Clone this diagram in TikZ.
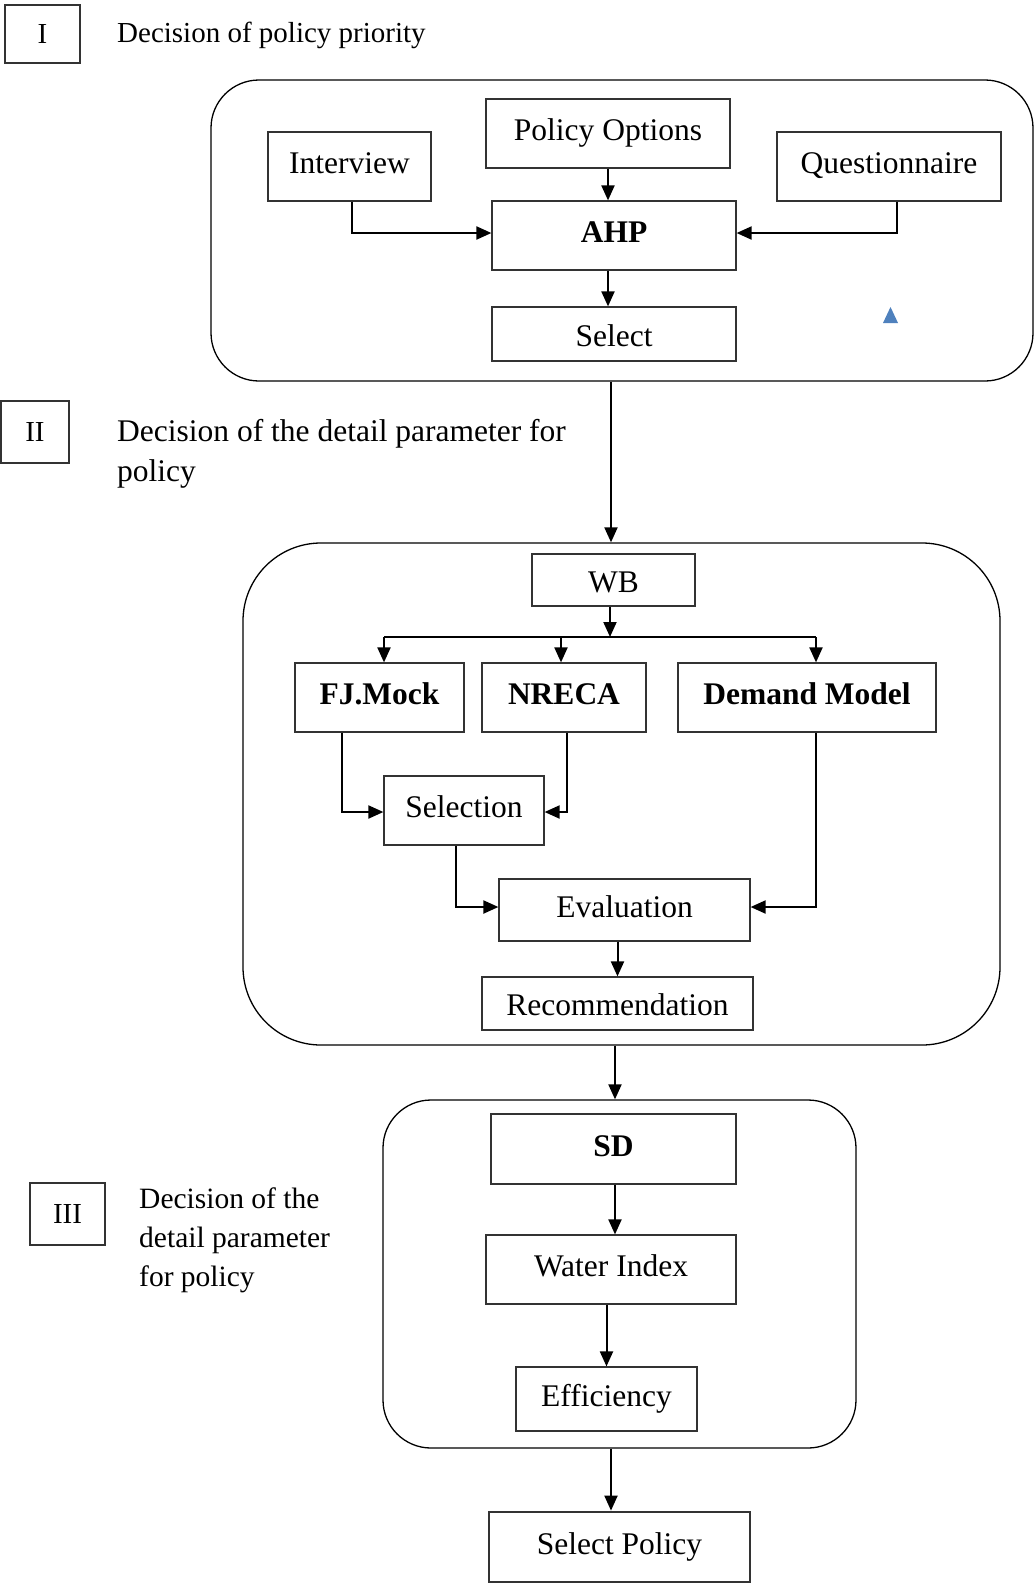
\documentclass[tikz,border=0pt]{standalone}
\usepackage{fontspec}
\setmainfont{Liberation Serif}
\usetikzlibrary{arrows.meta,calc}
\definecolor{markblue}{HTML}{4F81BD}
\begin{document}
\begin{tikzpicture}[x=1pt,y=-1pt,
  box/.style={draw=black!80, line width=1.2pt, rectangle, inner sep=0pt,
    font=\fontsize{31.5}{38}\selectfont, text height=21pt, text depth=7pt},
  low/.style={text height=31pt},
  bold/.style={font=\fontsize{31.5}{38}\selectfont\bfseries},
  group/.style={draw=black, line width=1.3pt, rectangle, inner sep=0pt},
  tag/.style={draw=black!80, line width=1.2pt, rectangle, inner sep=0pt,
    font=\fontsize{29}{34}\selectfont},
  caption/.style={inner sep=0pt, anchor=base west, align=left},
  arr/.style={line width=2pt, -{Triangle[length=15pt,width=13pt]}},
  link/.style={line width=2pt}
]
\useasboundingbox (0,0) rectangle (1035,1585);

% ---- stage labels (multi-line captions sit on their last baseline) ----
\node[tag, minimum width=75pt, minimum height=58pt] (tI) at (42.5,34) {I};
\node[caption, font=\fontsize{29}{34}\selectfont] (cI) at (117,42) {Decision of policy priority};

\node[tag, minimum width=68pt, minimum height=62pt] (tII) at (35,432) {II};
\node[caption, font=\fontsize{31.5}{40}\selectfont] (cII) at (117,481)
  {Decision of the detail parameter for\\policy};

\node[tag, minimum width=75pt, minimum height=62pt] (tIII) at (67.5,1214) {III};
\node[caption, font=\fontsize{29.5}{39}\selectfont] (cIII) at (139,1286)
  {Decision of the\\detail parameter\\for policy};

% ---- stage I: policy priority ----
\node[group, rounded corners=48pt, minimum width=822pt, minimum height=301pt] (g1) at (622,230.5) {};
\node[box, minimum width=163pt, minimum height=69pt] (int) at (349.5,166.5) {Interview};
\node[box, minimum width=244pt, minimum height=69pt] (po) at (608,133.5) {Policy Options};
\node[box, minimum width=224pt, minimum height=69pt] (qn) at (889,166.5) {Questionnaire};
\node[box, bold, minimum width=244pt, minimum height=69pt] (ahp) at (614,235.5) {AHP};
\node[box, low, minimum width=244pt, minimum height=54pt] (sl) at (614,334) {Select};
\fill[markblue] (883,323) -- (898,323) -- (890.5,307) -- cycle;

\draw[arr] (po.south) -- (po.south |- ahp.north);
\draw[arr] ([xshift=2.5pt]int.south) |- ([yshift=2.5pt]ahp.west);
\draw[arr] ([xshift=8pt]qn.south) |- ([yshift=2.5pt]ahp.east);
\draw[arr] (po.south |- ahp.south) -- (po.south |- sl.north);

% ---- stage II: detail parameters ----
\node[group, rounded corners=78pt, minimum width=757pt, minimum height=502pt] (g2) at (621.5,794) {};
\draw[arr] ([xshift=-3pt]sl.south |- g1.south) -- ([xshift=-3pt]sl.south |- g2.north);

\node[box, low, minimum width=163pt, minimum height=52pt] (wb) at (613.5,580) {WB};
\node[box, bold, minimum width=169pt, minimum height=69pt] (fj) at (379.5,697.5) {FJ.Mock};
\node[box, bold, minimum width=164pt, minimum height=69pt] (nr) at (564,697.5) {NRECA};
\node[box, bold, minimum width=258pt, minimum height=69pt] (dm) at (807,697.5) {Demand Model};
\node[box, minimum width=160pt, minimum height=69pt] (sel) at (464,810.5) {Selection};
\node[box, minimum width=251pt, minimum height=62pt] (ev) at (624.5,910) {Evaluation};
\node[box, low, minimum width=271pt, minimum height=53pt] (rec) at (617.5,1003.5) {Recommendation};

\coordinate (bus) at (610,637);
\coordinate (busL) at (384,637);
\coordinate (busM) at (561,637);
\coordinate (busR) at (816,637);
\draw[arr] (wb.south -| bus) -- (bus);
\draw[link] (busL) -- (busR);
\draw[arr] (busL) -- (busL |- fj.north);
\draw[arr] (busM) -- (busM |- nr.north);
\draw[arr] (busR) -- (busR |- dm.north);

\draw[arr] ([xshift=-37.5pt]fj.south) |- ([yshift=-1.5pt]sel.west);
\draw[arr] ([xshift=3pt]nr.south) |- ([yshift=-1.5pt]sel.east);
\draw[arr] ([xshift=-8pt]sel.south) |- ([yshift=3pt]ev.west);
\draw[arr] ([xshift=9pt]dm.south) |- ([yshift=3pt]ev.east);
\draw[arr] (rec.north |- ev.south) -- (rec.north);

% ---- stage III: system dynamics ----
\node[group, rounded corners=48pt, minimum width=473pt, minimum height=348pt] (g3) at (619.5,1274) {};
\draw[arr] ([xshift=-2.5pt]rec.south |- g2.south) -- ([xshift=-2.5pt]rec.south |- g3.north);

\node[box, bold, minimum width=245pt, minimum height=70pt] (sd) at (613.5,1149) {SD};
\node[box, minimum width=250pt, minimum height=69pt] (wi) at (611,1269.5) {Water Index};
\node[box, minimum width=181pt, minimum height=64pt] (eff) at (606.5,1399) {Efficiency};
\node[box, line width=2.8pt, minimum width=261pt, minimum height=70pt] (sp) at (619.5,1547) {Select Policy};

\draw[arr] ([xshift=1.5pt]sd.south) -- ([xshift=1.5pt]sd.south |- wi.north);
\draw[arr] (eff.north |- wi.south) -- (eff.north);
\draw[arr] (wi.south |- g3.south) -- (wi.south |- sp.north);
\end{tikzpicture}
\end{document}
